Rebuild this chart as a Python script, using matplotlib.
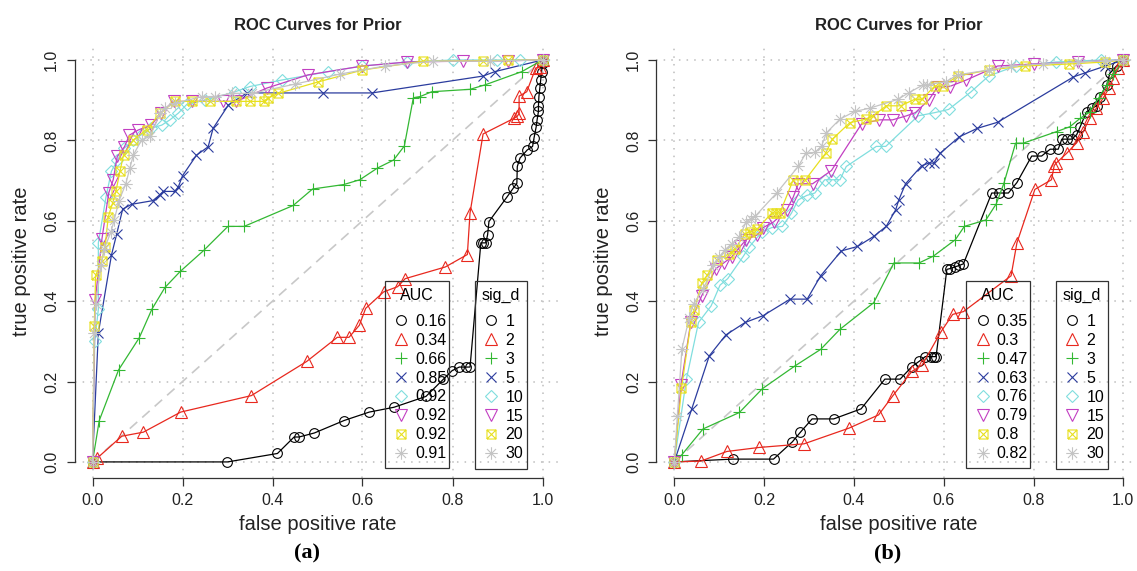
import matplotlib
matplotlib.use("Agg")
import matplotlib.pyplot as plt
from matplotlib.path import Path
from matplotlib.lines import Line2D

plt.rcParams['font.family'] = ['Liberation Sans', 'DejaVu Sans']

# ---------------- data ----------------
sig_d = ["1", "2", "3", "5", "10", "15", "20", "30"]
auc_a = ["0.16", "0.34", "0.66", "0.85", "0.92", "0.92", "0.92", "0.91"]
auc_b = ["0.35", "0.3", "0.47", "0.63", "0.76", "0.79", "0.8", "0.82"]

# panel (a)
a1_x = [0, 0.30, 0.411, 0.448, 0.459, 0.493, 0.559, 0.615, 0.670, 0.741, 0.780, 0.799, 0.815, 0.830, 0.839, 0.863, 0.868, 0.874, 0.878, 0.881, 0.921, 0.935, 0.943, 0.944, 0.950, 0.966, 0.978, 0.981, 0.986, 0.988, 0.991, 0.991, 0.992, 0.994, 0.996, 0.998, 1.0, 1.0]
a1_y = [0, 0, 0.021, 0.062, 0.062, 0.072, 0.103, 0.124, 0.136, 0.163, 0.206, 0.227, 0.236, 0.236, 0.236, 0.545, 0.545, 0.545, 0.565, 0.598, 0.659, 0.681, 0.693, 0.735, 0.756, 0.776, 0.785, 0.805, 0.834, 0.851, 0.872, 0.886, 0.909, 0.93, 0.95, 0.971, 0.992, 1.0]
a2_x = [0, 0.011, 0.065, 0.113, 0.196, 0.353, 0.476, 0.544, 0.570, 0.593, 0.607, 0.647, 0.678, 0.695, 0.784, 0.833, 0.839, 0.868, 0.937, 0.944, 0.948, 0.948, 0.965, 0.985, 0.994, 1.0]
a2_y = [0, 0.010, 0.064, 0.074, 0.124, 0.165, 0.250, 0.310, 0.310, 0.340, 0.382, 0.423, 0.436, 0.456, 0.485, 0.516, 0.620, 0.816, 0.855, 0.860, 0.867, 0.910, 0.921, 0.980, 0.983, 1.0]
a3_x = [0, 0.015, 0.058, 0.104, 0.132, 0.161, 0.195, 0.247, 0.301, 0.337, 0.446, 0.489, 0.558, 0.594, 0.633, 0.669, 0.693, 0.713, 0.728, 0.754, 0.839, 0.872, 0.954, 1.0]
a3_y = [0, 0.103, 0.229, 0.309, 0.380, 0.434, 0.474, 0.526, 0.586, 0.586, 0.638, 0.679, 0.690, 0.702, 0.731, 0.751, 0.786, 0.906, 0.909, 0.921, 0.927, 0.938, 0.971, 1.0]
a5_x = [0, 0.013, 0.042, 0.054, 0.067, 0.087, 0.134, 0.149, 0.157, 0.183, 0.191, 0.2, 0.231, 0.257, 0.268, 0.302, 0.343, 0.513, 0.621, 0.868, 0.894, 1.0]
a5_y = [0, 0.321, 0.514, 0.568, 0.629, 0.641, 0.650, 0.664, 0.673, 0.673, 0.685, 0.712, 0.763, 0.784, 0.830, 0.888, 0.918, 0.918, 0.918, 0.960, 0.971, 1.0]
a10_x = [0, 0.005, 0.013, 0.013, 0.030, 0.042, 0.055, 0.07, 0.09, 0.11, 0.13, 0.154, 0.172, 0.191, 0.21, 0.25, 0.317, 0.35, 0.42, 0.524, 0.60, 0.70, 0.80, 0.898, 0.95, 1.0]
a10_y = [0, 0.30, 0.380, 0.545, 0.659, 0.723, 0.75, 0.78, 0.80, 0.815, 0.83, 0.838, 0.851, 0.868, 0.89, 0.90, 0.921, 0.934, 0.95, 0.971, 0.985, 0.995, 1.0, 1.0, 1.0, 1.0]
a15_x = [0, 0.006, 0.021, 0.036, 0.046, 0.055, 0.071, 0.082, 0.102, 0.131, 0.152, 0.18, 0.22, 0.291, 0.32, 0.387, 0.479, 0.60, 0.70, 0.824, 0.924, 1.0]
a15_y = [0, 0.402, 0.555, 0.669, 0.702, 0.760, 0.784, 0.813, 0.826, 0.838, 0.869, 0.897, 0.897, 0.897, 0.897, 0.93, 0.963, 0.985, 0.995, 0.997, 0.998, 1.0]
a20_x = [0, 0.004, 0.007, 0.020, 0.028, 0.035, 0.045, 0.052, 0.061, 0.069, 0.091, 0.12, 0.15, 0.183, 0.22, 0.26, 0.32, 0.35, 0.38, 0.39, 0.413, 0.50, 0.60, 0.735, 0.868, 0.924, 1.0]
a20_y = [0, 0.339, 0.464, 0.50, 0.535, 0.61, 0.645, 0.673, 0.723, 0.764, 0.801, 0.827, 0.867, 0.897, 0.897, 0.897, 0.897, 0.897, 0.897, 0.905, 0.917, 0.945, 0.975, 0.997, 0.998, 0.999, 1.0]
a30_x = [0, 0.004, 0.007, 0.019, 0.026, 0.041, 0.048, 0.059, 0.074, 0.083, 0.091, 0.109, 0.128, 0.15, 0.16, 0.183, 0.243, 0.273, 0.31, 0.354, 0.45, 0.55, 0.65, 0.757, 0.883, 1.0]
a30_y = [0, 0.321, 0.393, 0.489, 0.530, 0.572, 0.601, 0.65, 0.692, 0.731, 0.764, 0.801, 0.810, 0.867, 0.880, 0.892, 0.909, 0.909, 0.917, 0.917, 0.94, 0.965, 0.985, 0.997, 0.997, 1.0]

# panel (b)
b1_x = [0, 0.130, 0.221, 0.263, 0.281, 0.307, 0.355, 0.416, 0.469, 0.503, 0.529, 0.545, 0.559, 0.572, 0.578, 0.583, 0.607, 0.614, 0.625, 0.635, 0.644, 0.707, 0.724, 0.744, 0.763, 0.796, 0.818, 0.837, 0.855, 0.863, 0.874, 0.885, 0.896, 0.904, 0.918, 0.930, 0.941, 0.948, 0.963, 0.970, 0.985, 1.0]
b1_y = [0, 0.007, 0.007, 0.050, 0.074, 0.107, 0.107, 0.132, 0.206, 0.206, 0.237, 0.250, 0.262, 0.262, 0.262, 0.262, 0.479, 0.481, 0.485, 0.489, 0.493, 0.669, 0.669, 0.669, 0.695, 0.761, 0.761, 0.778, 0.778, 0.803, 0.803, 0.803, 0.814, 0.834, 0.871, 0.880, 0.886, 0.909, 0.938, 0.967, 0.985, 1.0]
b2_x = [0, 0.059, 0.117, 0.189, 0.289, 0.389, 0.455, 0.487, 0.529, 0.552, 0.594, 0.620, 0.644, 0.750, 0.763, 0.803, 0.840, 0.846, 0.850, 0.874, 0.896, 0.91, 0.925, 0.94, 0.955, 0.968, 0.978, 0.989, 1.0]
b2_y = [0, 0.002, 0.026, 0.036, 0.045, 0.084, 0.117, 0.165, 0.225, 0.241, 0.324, 0.367, 0.374, 0.463, 0.545, 0.678, 0.702, 0.737, 0.743, 0.768, 0.794, 0.82, 0.855, 0.88, 0.905, 0.93, 0.955, 0.979, 1.0]
b3_x = [0, 0.017, 0.064, 0.145, 0.196, 0.269, 0.326, 0.369, 0.444, 0.489, 0.545, 0.577, 0.626, 0.646, 0.694, 0.717, 0.734, 0.760, 0.777, 0.852, 0.881, 0.904, 0.925, 0.945, 0.963, 0.978, 1.0]
b3_y = [0, 0.018, 0.082, 0.123, 0.182, 0.239, 0.280, 0.330, 0.396, 0.495, 0.495, 0.512, 0.553, 0.586, 0.602, 0.642, 0.693, 0.793, 0.793, 0.822, 0.834, 0.855, 0.87, 0.905, 0.938, 0.965, 1.0]
b5_x = [0, 0.039, 0.078, 0.115, 0.158, 0.198, 0.258, 0.296, 0.326, 0.372, 0.408, 0.444, 0.472, 0.493, 0.500, 0.515, 0.551, 0.568, 0.578, 0.592, 0.635, 0.675, 0.72, 0.889, 0.915, 0.96, 1.0]
b5_y = [0, 0.132, 0.264, 0.316, 0.347, 0.364, 0.405, 0.405, 0.463, 0.525, 0.536, 0.561, 0.586, 0.627, 0.652, 0.692, 0.737, 0.744, 0.743, 0.768, 0.809, 0.83, 0.845, 0.958, 0.968, 0.985, 1.0]
b10_x = [0, 0.027, 0.054, 0.082, 0.102, 0.119, 0.154, 0.167, 0.195, 0.217, 0.241, 0.261, 0.276, 0.295, 0.313, 0.335, 0.352, 0.369, 0.383, 0.450, 0.471, 0.543, 0.580, 0.611, 0.66, 0.70, 0.76, 0.85, 0.95, 1.0]
b10_y = [0, 0.206, 0.347, 0.388, 0.440, 0.456, 0.512, 0.535, 0.572, 0.583, 0.586, 0.619, 0.652, 0.663, 0.669, 0.702, 0.702, 0.702, 0.735, 0.785, 0.785, 0.861, 0.869, 0.877, 0.92, 0.96, 0.985, 0.995, 1.0, 1.0]
b15_x = [0, 0.015, 0.037, 0.061, 0.093, 0.110, 0.128, 0.147, 0.160, 0.185, 0.198, 0.221, 0.250, 0.265, 0.276, 0.308, 0.350, 0.417, 0.457, 0.486, 0.517, 0.537, 0.567, 0.587, 0.613, 0.65, 0.72, 0.80, 0.90, 1.0]
b15_y = [0, 0.192, 0.349, 0.413, 0.481, 0.495, 0.510, 0.536, 0.553, 0.565, 0.583, 0.597, 0.626, 0.659, 0.692, 0.692, 0.725, 0.841, 0.851, 0.851, 0.861, 0.869, 0.901, 0.934, 0.934, 0.95, 0.985, 0.99, 0.995, 1.0]
b20_x = [0, 0.016, 0.037, 0.045, 0.061, 0.073, 0.095, 0.121, 0.135, 0.158, 0.169, 0.184, 0.217, 0.226, 0.235, 0.265, 0.292, 0.337, 0.352, 0.391, 0.428, 0.443, 0.472, 0.504, 0.535, 0.551, 0.580, 0.598, 0.631, 0.70, 0.78, 0.88, 0.96, 1.0]
b20_y = [0, 0.183, 0.347, 0.379, 0.444, 0.464, 0.503, 0.517, 0.530, 0.568, 0.572, 0.579, 0.619, 0.619, 0.619, 0.702, 0.702, 0.768, 0.803, 0.844, 0.853, 0.861, 0.886, 0.886, 0.902, 0.902, 0.935, 0.935, 0.96, 0.975, 0.985, 0.99, 0.995, 1.0]
b30_x = [0, 0.007, 0.017, 0.033, 0.043, 0.065, 0.087, 0.100, 0.113, 0.128, 0.145, 0.160, 0.170, 0.180, 0.228, 0.276, 0.293, 0.313, 0.328, 0.339, 0.369, 0.402, 0.435, 0.498, 0.523, 0.554, 0.562, 0.605, 0.631, 0.70, 0.75, 0.82, 0.90, 0.96, 1.0]
b30_y = [0, 0.115, 0.281, 0.357, 0.394, 0.43, 0.489, 0.51, 0.528, 0.543, 0.56, 0.597, 0.605, 0.611, 0.669, 0.735, 0.768, 0.770, 0.786, 0.819, 0.853, 0.872, 0.880, 0.902, 0.919, 0.938, 0.938, 0.946, 0.963, 0.975, 0.985, 0.99, 0.995, 0.998, 1.0]

tick_vals = [0.0, 0.2, 0.4, 0.6, 0.8, 1.0]
tick_labels = ["0.0", "0.2", "0.4", "0.6", "0.8", "1.0"]

# ---------------- styles ----------------
colors = ['#000000', '#E8281E', '#33B833', '#2B3C9E', '#80DEDE', '#C23FC2', '#E8E020', '#C4C4C4']

sq_x = Path([(-1, -1), (1, -1), (1, 1), (-1, 1), (-1, -1), (-1, -1), (1, 1), (-1, 1), (1, -1)],
            [Path.MOVETO, Path.LINETO, Path.LINETO, Path.LINETO, Path.LINETO,
             Path.MOVETO, Path.LINETO, Path.MOVETO, Path.LINETO])
ast = Path([(-1, 0), (1, 0), (0, -1), (0, 1), (-0.72, -0.72), (0.72, 0.72), (-0.72, 0.72), (0.72, -0.72)],
           [Path.MOVETO, Path.LINETO] * 4)
markers = ['o', '^', '+', 'x', 'D', 'v', sq_x, ast]
msizes = [7, 8, 9, 7, 6.5, 8, 6.5, 9]

fig = plt.figure(figsize=(11.37, 5.71), dpi=100)
W, H = 1137.0, 571.0
ax_a = fig.add_axes([74.5 / W, (H - 478) / H, 486 / W, 434.1 / H])
ax_b = fig.add_axes([656.3 / W, (H - 478) / H, 485 / W, 434.1 / H])

panels = [
    (ax_a, [(a1_x, a1_y), (a2_x, a2_y), (a3_x, a3_y), (a5_x, a5_y), (a10_x, a10_y), (a15_x, a15_y), (a20_x, a20_y), (a30_x, a30_y)], auc_a, "(a)", 307),
    (ax_b, [(b1_x, b1_y), (b2_x, b2_y), (b3_x, b3_y), (b5_x, b5_y), (b10_x, b10_y), (b15_x, b15_y), (b20_x, b20_y), (b30_x, b30_y)], auc_b, "(b)", 888),
]

for ax, series, aucs, tag, tagx in panels:
    ax.set_xlim(-0.04, 1.04)
    ax.set_ylim(-0.04, 1.04)
    ax.grid(True, color='#BDBDBD', linestyle=(0, (1, 4)), linewidth=1.1)
    ax.set_axisbelow(True)
    ax.plot([0, 1], [0, 1], color='#C8C8C8', linestyle=(0, (6, 4)), linewidth=1.2, zorder=1)
    for i, (xs, ys) in enumerate(series):
        ax.plot(xs, ys, color=colors[i], linewidth=0.9, marker=markers[i], markersize=msizes[i],
                markerfacecolor='none', markeredgecolor=colors[i], markeredgewidth=0.8, zorder=2 + i)
    for s in ['top', 'right']:
        ax.spines[s].set_visible(False)
    for s in ['left', 'bottom']:
        ax.spines[s].set_bounds(0, 1)
        ax.spines[s].set_color('#333333')
        ax.spines[s].set_linewidth(0.9)
    ax.set_xticks(tick_vals)
    ax.set_xticklabels(tick_labels)
    ax.set_yticks(tick_vals)
    ax.set_yticklabels(tick_labels, rotation=90, va='center')
    ax.tick_params(direction='out', length=6, width=0.9, color='#333333', labelsize=11.5,
                   labelcolor='#222222', pad=5)
    ax.set_xlabel("false positive rate", fontsize=14.5, color='#222222')
    ax.xaxis.set_label_coords(0.5, (478 - 525) / 434.1)
    ax.xaxis.label.set_va('center')
    ax.set_ylabel("true positive rate", fontsize=14.5, color='#222222')
    ax.yaxis.set_label_coords((22 - 74.5) / 486, 0.5)
    ax.yaxis.label.set_va('center')
    ax.text(0.5, (478 - 25) / 434.1, "ROC Curves for Prior", transform=ax.transAxes,
            ha='center', va='center', fontsize=12, fontweight='bold', color='#222222')
    fig.text(tagx / W, 1 - 553 / H, tag, ha='center', va='center', fontsize=16,
             fontweight='bold', family=['Liberation Serif', 'DejaVu Serif'])

    handles = [Line2D([], [], linestyle='none', marker=markers[i], markersize=msizes[i],
                      markerfacecolor='none', markeredgecolor=colors[i], markeredgewidth=0.8)
               for i in range(8)]
    common = dict(loc='upper left', mode='expand', borderaxespad=0, fontsize=11.5, title_fontsize=11.5,
                  fancybox=False, edgecolor='#333333', facecolor='none', framealpha=1,
                  handlelength=1.15, handletextpad=0.3, labelspacing=0.245, borderpad=0.45,
                  bbox_transform=ax.transData)
    leg1 = ax.legend(handles, aucs, title="AUC", bbox_to_anchor=(0.65, -0.011, 0.142, 0.462), **common)
    leg1.get_frame().set_linewidth(0.9)
    leg1._legend_box.sep = 7.9
    ax.add_artist(leg1)
    leg2 = ax.legend(handles, sig_d, title="sig_d", bbox_to_anchor=(0.85, -0.011, 0.115, 0.462), **common)
    leg2.get_frame().set_linewidth(0.9)
    leg2._legend_box.sep = 7.9

fig.savefig("out.png", dpi=100)
